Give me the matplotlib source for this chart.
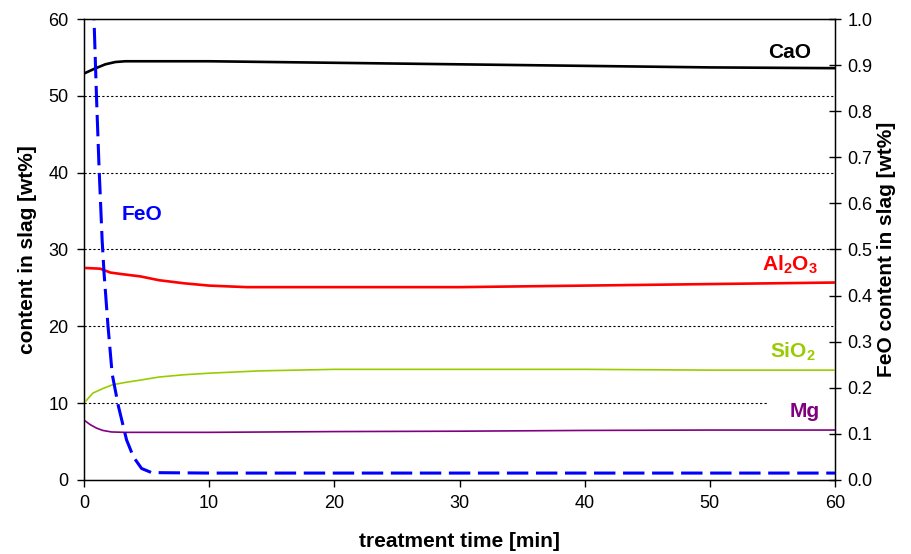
import numpy as np
import matplotlib
matplotlib.use("Agg")
import matplotlib.pyplot as plt

plt.rcParams['font.family'] = ['Liberation Sans', 'DejaVu Sans']
plt.rcParams['mathtext.fontset'] = 'custom'
plt.rcParams['mathtext.bf'] = 'Liberation Sans:bold'
plt.rcParams['mathtext.rm'] = 'Liberation Sans'
plt.rcParams['mathtext.default'] = 'bf'

# Dados (tempo em min, teor em wt%)
t_cao = [0, 0.8, 1.7, 2.5, 3.3, 5, 10, 15, 20, 30, 40, 50, 60]
cao = [52.9, 53.5, 54.1, 54.4, 54.5, 54.5, 54.5, 54.4, 54.3, 54.1, 53.9, 53.7, 53.6]

t_al2o3 = [0, 1.3, 2.1, 3, 4.5, 6, 8, 10, 13, 20, 30, 40, 50, 60]
al2o3 = [27.6, 27.5, 27.0, 26.8, 26.5, 26.0, 25.6, 25.3, 25.1, 25.1, 25.1, 25.3, 25.5, 25.7]

t_sio2 = [0, 0.7, 1.5, 2.3, 3.3, 4.5, 6, 8, 10, 14, 20, 30, 40, 50, 60]
sio2 = [10.0, 11.3, 11.9, 12.4, 12.7, 13.0, 13.4, 13.7, 13.9, 14.2, 14.4, 14.4, 14.4, 14.3, 14.3]

t_mg = [0, 0.5, 1.0, 1.5, 2.2, 3.3, 10, 20, 30, 40, 50, 60]
mg = [7.8, 7.2, 6.75, 6.45, 6.25, 6.2, 6.2, 6.3, 6.35, 6.45, 6.5, 6.5]

t_feo = [0.6, 0.8, 1.0, 1.2, 1.45, 1.6, 1.9, 2.25, 2.75, 3.4, 3.95, 4.6, 5.4, 10, 20, 30, 40, 50, 60]
feo = [1.05, 1.0, 0.83, 0.68, 0.52, 0.45, 0.34, 0.23, 0.16, 0.087, 0.05, 0.025, 0.016,
       0.015, 0.015, 0.015, 0.015, 0.015, 0.015]

x_ticks = [0, 10, 20, 30, 40, 50, 60]
y_ticks = [0, 10, 20, 30, 40, 50, 60]
y2_ticks = [0.0, 0.1, 0.2, 0.3, 0.4, 0.5, 0.6, 0.7, 0.8, 0.9, 1.0]

fig = plt.figure(figsize=(9.11, 5.54), dpi=100)
ax = fig.add_axes([0.0922, 0.1336, 0.8244, 0.8321])
ax2 = ax.twinx()

# Grade horizontal pontilhada
for g in y_ticks[1:-1]:
    ax.axhline(g, color='black', lw=0.8, ls=(0, (2, 2)), zorder=0)

ax.plot(t_cao, cao, color='black', lw=1.9, zorder=3)
ax.plot(t_al2o3, al2o3, color='#ff0000', lw=1.9, zorder=3)
ax.plot(t_sio2, sio2, color='#99cc00', lw=1.2, zorder=3)
ax.plot(t_mg, mg, color='#800080', lw=1.2, zorder=3)
ax2.plot(t_feo, feo, color='#0000ff', lw=2.2, ls=(0, (7, 2.5)))

ax.text(56.4, 55.7, 'CaO', color='black', fontsize=15, fontweight='bold',
        ha='center', va='center')
ax.text(56.4, 28.0, 'Al$_2$O$_3$', color='#ff0000', fontsize=15, fontweight='bold',
        ha='center', va='center')
ax.text(56.6, 16.7, 'SiO$_2$', color='#99cc00', fontsize=15, fontweight='bold',
        ha='center', va='center')
ax.text(57.6, 8.85, 'Mg', color='#800080', fontsize=15, fontweight='bold',
        ha='center', va='center', zorder=1,
        bbox=dict(facecolor='white', edgecolor='none', boxstyle='square,pad=1.1'))
ax.text(4.6, 34.5, 'FeO', color='#0000ff', fontsize=15, fontweight='bold',
        ha='center', va='center')

ax.set_xlim(0, 60)
ax.set_ylim(0, 60)
ax2.set_ylim(0, 1.0)
ax.set_xticks(x_ticks)
ax.set_yticks(y_ticks)
ax2.set_yticks(y2_ticks)
ax2.set_yticklabels(['%.1f' % v for v in y2_ticks])

ax.tick_params(axis='both', direction='out', length=5, width=1, labelsize=13, pad=6)
ax2.tick_params(axis='y', direction='inout', length=8, width=1, labelsize=13, pad=5)

ax.set_xlabel('treatment time [min]', fontsize=15, fontweight='bold')
ax.set_ylabel('content in slag [wt%]', fontsize=15, fontweight='bold')
ax2.set_ylabel('FeO content in slag [wt%]', fontsize=15, fontweight='bold')
ax.xaxis.set_label_coords(0.5, -0.1338)
ax.xaxis.label.set_va('center')
ax.yaxis.set_label_coords(-0.0746, 0.5)
ax.yaxis.label.set_va('center')
ax2.yaxis.set_label_coords(1.0687, 0.5)
ax2.yaxis.label.set_va('center')

for sp in ax.spines.values():
    sp.set_linewidth(1)

fig.savefig('out.png', dpi=100)
